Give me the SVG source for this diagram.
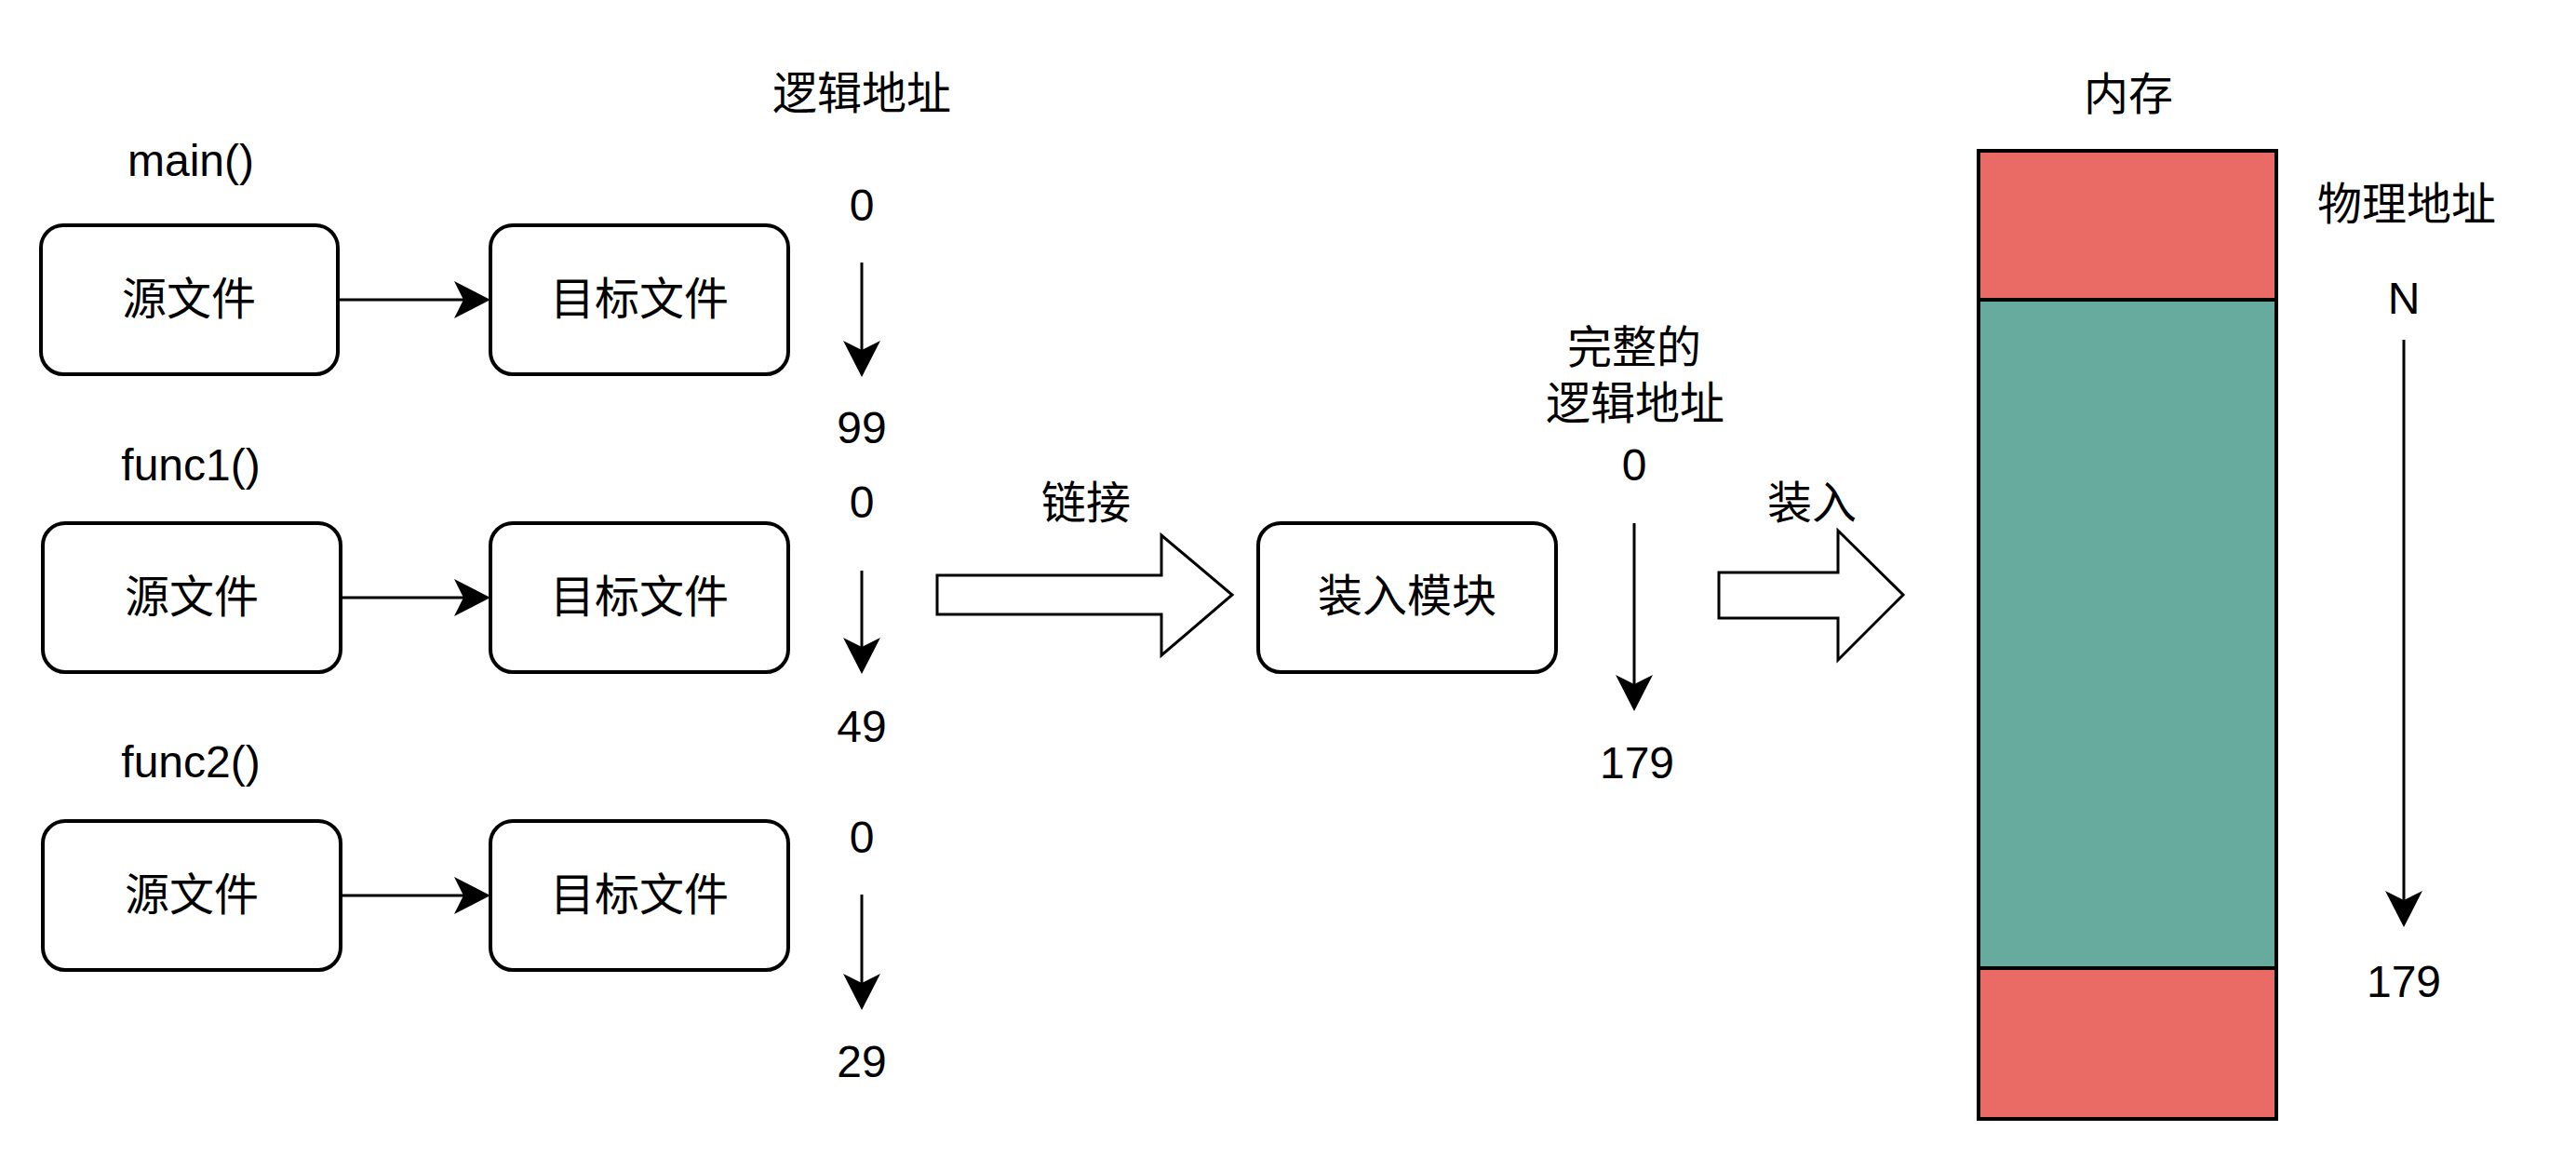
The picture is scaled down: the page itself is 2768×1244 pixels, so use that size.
<svg xmlns="http://www.w3.org/2000/svg" width="2768" height="1244" viewBox="0 0 2768 1244">
<style>
text{font-family:"Liberation Sans","Noto Sans CJK SC",sans-serif;font-size:48px;fill:#000;text-anchor:middle}
.box{fill:#fff;stroke:#000;stroke-width:4}
.ln{fill:none;stroke:#000;stroke-width:3}
.big{fill:#fff;stroke:#000;stroke-width:3;stroke-linejoin:miter}
.mem{stroke:#000;stroke-width:4}
</style>
<defs>
<marker id="ah" markerUnits="userSpaceOnUse" markerWidth="40" markerHeight="40" viewBox="0 0 36 36" refX="9" refY="18" orient="auto">
<path d="M0,0 L35,18 L0,36 L9,18 Z" fill="#000"/>
</marker>
</defs>
<rect width="2768" height="1244" fill="#fff"/>

<g id="labels">
<text x="926" y="117">逻辑地址</text>
<text x="205" y="189">main()</text>
<text x="205" y="516">func1()</text>
<text x="205" y="835">func2()</text>
<text x="926" y="237">0</text>
<text x="926" y="476">99</text>
<text x="926" y="556">0</text>
<text x="926" y="797">49</text>
<text x="926" y="916">0</text>
<text x="926" y="1157">29</text>
<text x="1167" y="557">链接</text>
<text x="1756" y="390">完整的</text>
<text x="1757" y="450">逻辑地址</text>
<text x="1756" y="516">0</text>
<text x="1759" y="836">179</text>
<text x="1947" y="557">装入</text>
<text x="2287" y="118">内存</text>
<text x="2586" y="236">物理地址</text>
<text x="2583" y="337">N</text>
<text x="2583" y="1071">179</text>
</g>

<g id="src1"><rect class="box" x="44" y="242" width="319" height="160" rx="24"/><text x="203" y="338">源文件</text></g>
<g id="obj1"><rect class="box" x="527" y="242" width="320" height="160" rx="24"/><text x="687" y="338">目标文件</text></g>
<g id="src2"><rect class="box" x="46" y="562" width="320" height="160" rx="24"/><text x="206" y="658">源文件</text></g>
<g id="obj2"><rect class="box" x="527" y="562" width="320" height="160" rx="24"/><text x="687" y="658">目标文件</text></g>
<g id="src3"><rect class="box" x="46" y="882" width="320" height="160" rx="24"/><text x="206" y="978">源文件</text></g>
<g id="obj3"><rect class="box" x="527" y="882" width="320" height="160" rx="24"/><text x="687" y="978">目标文件</text></g>
<g id="module"><rect class="box" x="1352" y="562" width="320" height="160" rx="24"/><text x="1512" y="657">装入模块</text></g>

<g id="memory">
<rect class="mem" x="2126" y="162" width="320" height="160" fill="#EA6B66"/>
<rect class="mem" x="2126" y="322" width="320" height="718" fill="#67AB9F"/>
<rect class="mem" x="2126" y="1040" width="320" height="162" fill="#EA6B66"/>
</g>

<g id="connectors">
<line class="ln" x1="364" y1="322" x2="498" y2="322" marker-end="url(#ah)"/>
<line class="ln" x1="366" y1="642" x2="498" y2="642" marker-end="url(#ah)"/>
<line class="ln" x1="366" y1="962" x2="498" y2="962" marker-end="url(#ah)"/>
<line class="ln" x1="926" y1="282" x2="926" y2="376" marker-end="url(#ah)"/>
<line class="ln" x1="926" y1="613" x2="926" y2="695" marker-end="url(#ah)"/>
<line class="ln" x1="926" y1="961" x2="926" y2="1056" marker-end="url(#ah)"/>
<line class="ln" x1="1756" y1="562" x2="1756" y2="735" marker-end="url(#ah)"/>
<line class="ln" x1="2583" y1="365" x2="2583" y2="967" marker-end="url(#ah)"/>
<polygon class="big" points="1007,618 1248,618 1248,575 1324,639 1248,704 1248,660 1007,660"/>
<polygon class="big" points="1847,615 1975,615 1975,570 2045,639 1975,709 1975,664 1847,664"/>
</g>
</svg>
